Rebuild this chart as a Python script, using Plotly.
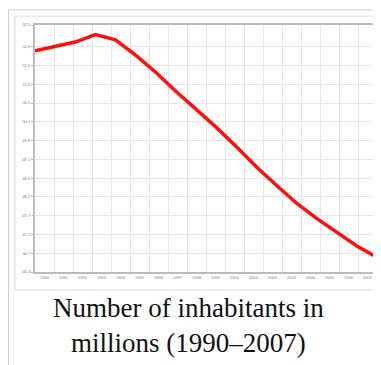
import plotly.graph_objects as go

# Population, millions, 1990-2007
years = list(range(1990, 2008))
population = [51.838, 51.944, 52.056, 52.244, 52.114, 51.728, 51.297, 50.818, 50.370,
              49.918, 49.429, 48.923, 48.457, 48.004, 47.622, 47.280, 46.930, 46.646]
y_tick_labels = ["46.3", "46.7", "47.2", "47.7", "48.2", "48.6", "49.1",
                 "49.6", "50.1", "50.5", "51.0", "51.5", "51.9", "52.5"]
y_min, y_step, y_top = 46.276, 0.472, 52.485
caption = "Number of inhabitants in<br>millions (1990–2007)"

n = len(years)
span = years[-1] - years[0]
cell = span / n
x_label_pos = [years[0] + (i + 0.5) * cell for i in range(n)]
y_tick_pos = [y_min + k * y_step for k in range(len(y_tick_labels) - 1)] + [y_top]

# the page body has an 8px margin, so the figure starts at (8, 8)
OFF = 8
W, H = 381 - OFF, 365 - OFF
# plot area in page pixels: x 35..377, y 25..272
L, R, T, B = 35 - OFF, OFF + W - 377, 25 - OFF, OFF + H - 272
pw, ph = W - L - R, H - T - B


def px(x):  # page pixel -> paper x
    return (x - OFF - L) / pw


def py(y):  # page pixel -> paper y
    return (OFF + H - B - y) / ph


fig = go.Figure()
fig.add_trace(go.Scatter(
    x=years, y=population, mode="lines",
    line=dict(color="#ff1010", width=3.5),
    hoverinfo="skip", showlegend=False,
))

grid = "#e6e6e6"
tick_font = dict(family="Liberation Sans", size=4, color="#777")
fig.update_layout(
    width=W, height=H,
    margin=dict(l=L, r=R, t=T, b=B),
    paper_bgcolor="white", plot_bgcolor="white",
    showlegend=False,
    xaxis=dict(
        range=[years[0], years[-1]], automargin=False,
        tickmode="array", tickvals=x_label_pos, ticktext=[str(y) for y in years],
        showgrid=False, ticks="", tickfont=tick_font,
        minor=dict(tickmode="linear", tick0=years[0], dtick=cell,
                   showgrid=True, gridcolor=grid, gridwidth=1),
        showline=True, linecolor="#bbbbbb", linewidth=2, mirror=True,
        zeroline=False, fixedrange=True,
    ),
    yaxis=dict(
        range=[y_min, y_top], automargin=False,
        tickmode="array", tickvals=y_tick_pos, ticktext=y_tick_labels,
        showgrid=True, gridcolor=grid, gridwidth=1,
        ticks="outside", ticklen=2, tickcolor="#bbb", tickfont=tick_font,
        showline=True, linecolor="#bbbbbb", linewidth=2, mirror=True,
        zeroline=False, fixedrange=True,
    ),
)

# outer thumbnail frame and inner chart frame
fig.add_shape(type="rect", xref="paper", yref="paper",
              x0=px(8.5), x1=px(400), y0=py(400), y1=py(10),
              line=dict(color="#cfcfcf", width=1), layer="below")
fig.add_shape(type="rect", xref="paper", yref="paper",
              x0=px(15), x1=px(379), y0=py(290), y1=py(16),
              line=dict(color="#d8d8d8", width=1), layer="below")

fig.add_annotation(
    text=caption, xref="paper", yref="paper",
    x=px(188), y=py(291), xanchor="center", yanchor="top",
    showarrow=False, align="center",
    font=dict(family="Liberation Serif", size=27, color="#111"),
)

fig.write_html("out.html")
